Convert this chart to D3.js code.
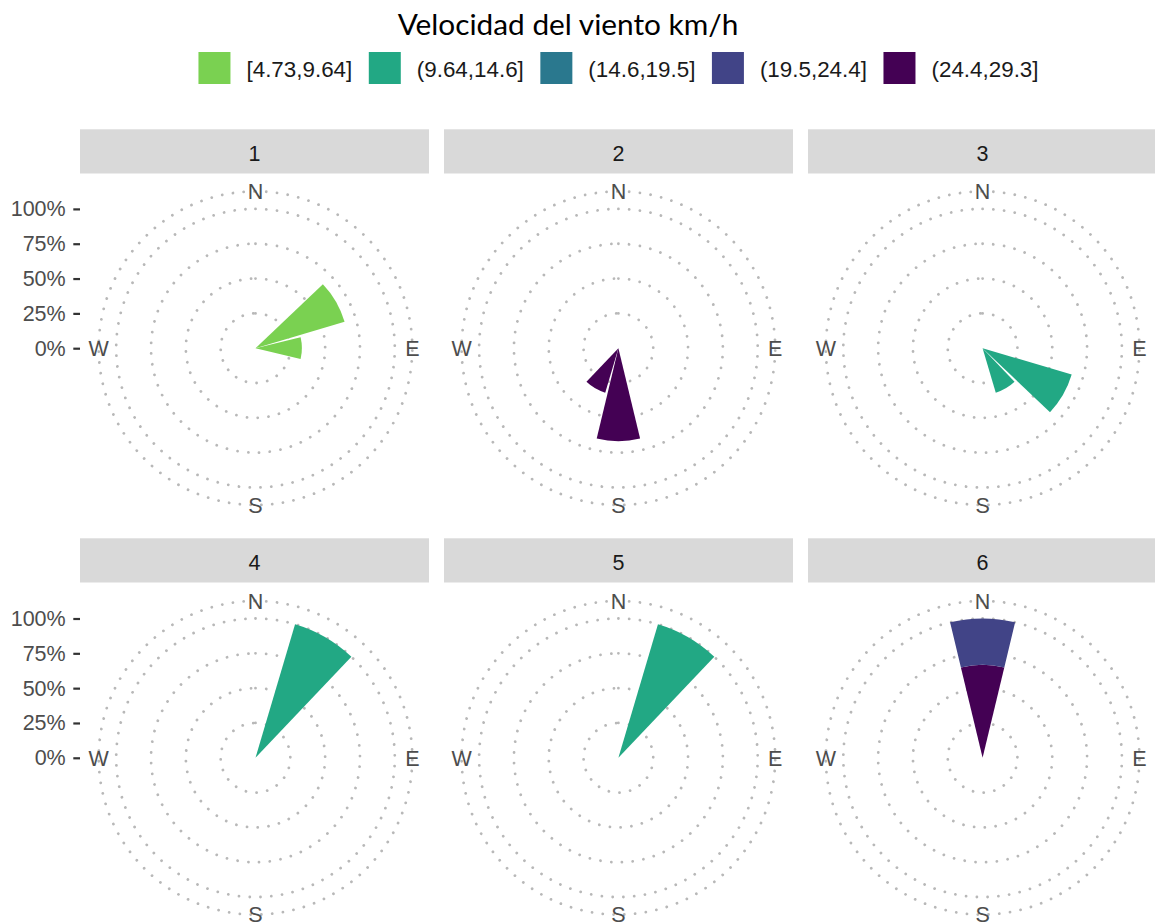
<!DOCTYPE html>
<html><head><meta charset="utf-8">
<script src="https://cdn.jsdelivr.net/npm/d3@7"></script>
<style>body{margin:0;background:#fff} svg{display:block}</style>
</head><body><svg id="c" width="1155" height="924"></svg>
<script>
// ---------- data ----------
const legendTitle = "Velocidad del viento km/h";
const panelLabels = ["1","2","3","4","5","6"];
const speedClasses = ["[4.73,9.64]","(9.64,14.6]","(14.6,19.5]","(19.5,24.4]","(24.4,29.3]"];
const speedColors = ["#7AD151","#22A884","#2A788E","#414487","#440154"];
const directions = [0,30,60,90,120,150,180,210,240,270,300,330];
const rTicks = [0,25,50,75,100];
const compassLabels = ["N","E","S","W"];
const compassDirs = [0,90,180,270];
// one entry per wedge segment (percent of the panel's observations)
const obsPanel = ["1","1","2","2","3","3","4","5","6","6"];
const obsDir   = [60,90,180,210,120,150,30,30,0,0];
const obsSpeed = ["[4.73,9.64]","[4.73,9.64]","(24.4,29.3]","(24.4,29.3]","(9.64,14.6]","(9.64,14.6]","(9.64,14.6]","(9.64,14.6]","(24.4,29.3]","(19.5,24.4]"];
const obsPct   = [66.7,33.3,66.7,33.3,66.7,33.3,100,100,66.7,33.3];

// ---------- layout ----------
const svg = d3.select("#c");
const colCx = [255.5, 618.4, 982.6];
const rowCy = [348.2, 757.8];
const stripLeft = [80, 444, 808];
const stripW = 349;
const stripTop = [129.3, 538.3];
const stripH = 44.2;
const R100 = 139.3;
const Router = 156.8;
const textFont = "'Liberation Sans', Arial, sans-serif";

const color = d3.scaleOrdinal().domain(speedClasses).range(speedColors);
const theta = d3.scaleBand().domain(directions)
  .range([-Math.PI/12, 2*Math.PI - Math.PI/12]).paddingInner(0.1).paddingOuter(0.05);
const rScale = d3.scaleLinear().domain([0,100]).range([0,R100]);

// ---------- title & legend ----------
svg.append("text").attr("x",568).attr("y",34.5).attr("text-anchor","middle")
  .attr("font-family","Lato, 'Open Sans', sans-serif").attr("font-size",29.8)
  .attr("fill","#000").text(legendTitle);

const keySize = 32, keyGap = 16, itemGap = 16.5;
const lg = svg.append("g");
const items = lg.selectAll("g.item").data(speedClasses).join("g").attr("class","item");
items.append("rect").attr("width",keySize).attr("height",keySize).attr("y",52)
  .attr("fill",d=>color(d));
items.append("text").attr("y",76.8).attr("font-family",textFont).attr("font-size",22.4)
  .attr("fill","#1a1a1a").text(d=>d);
let xpos = 0;
const widths = [];
items.each(function(){ widths.push(d3.select(this).select("text").node().getComputedTextLength()); });
const total = d3.sum(widths, w=>keySize+keyGap+w) + itemGap*(widths.length-1);
xpos = 618.5 - total/2;
items.each(function(d,i){
  const g = d3.select(this);
  g.select("rect").attr("x",xpos);
  g.select("text").attr("x",xpos+keySize+keyGap);
  xpos += keySize+keyGap+widths[i]+itemGap;
});

// ---------- panels ----------
panelLabels.forEach((lab,i)=>{
  const col = i%3, row = Math.floor(i/3);
  const cx = colCx[col], cy = rowCy[row];
  // strip
  svg.append("rect").attr("x",stripLeft[col]).attr("y",stripTop[row])
    .attr("width",stripW).attr("height",stripH).attr("fill","#D9D9D9");
  svg.append("text").attr("x",stripLeft[col]+stripW/2).attr("y",stripTop[row]+31.3)
    .attr("text-anchor","middle").attr("font-family",textFont).attr("font-size",21.5)
    .attr("fill","#1a1a1a").text(lab);

  const g = svg.append("g").attr("transform",`translate(${cx},${cy})`);
  // grid circles
  const radii = rTicks.filter(d=>d>0).map(d=>rScale(d)).concat([Router]);
  g.selectAll("path.grid").data(radii).join("path").attr("class","grid")
    .attr("d",r=>`M0,${-r}A${r},${r} 0 1,1 0,${r}A${r},${r} 0 1,1 0,${-r}`)
    .attr("fill","none").attr("stroke","#B8B8B8").attr("stroke-width",2.8)
    .attr("stroke-linecap","round").attr("stroke-dasharray","0.01 10.8");

  // wedges (stacked: later factor levels at the bottom)
  const segs = [];
  obsPanel.forEach((p,k)=>{ if(p===lab) segs.push({dir:obsDir[k], speed:obsSpeed[k], pct:obsPct[k]}); });
  const byDir = d3.group(segs, d=>d.dir);
  const arcs = [];
  byDir.forEach((arr,dir)=>{
    arr.sort((a,b)=>speedClasses.indexOf(b.speed)-speedClasses.indexOf(a.speed));
    let acc = 0;
    arr.forEach(s=>{ arcs.push({dir, speed:s.speed, y0:acc, y1:acc+s.pct}); acc += s.pct; });
  });
  const arc = d3.arc()
    .startAngle(d=>theta(d.dir)).endAngle(d=>theta(d.dir)+theta.bandwidth())
    .innerRadius(d=>rScale(d.y0)).outerRadius(d=>rScale(d.y1));
  g.selectAll("path.w").data(arcs).join("path").attr("class","w")
    .attr("d",arc).attr("fill",d=>color(d.speed));

  // compass labels
  g.selectAll("text.cmp").data(compassLabels).join("text").attr("class","cmp")
    .attr("x",(d,k)=>Router*Math.sin(compassDirs[k]*Math.PI/180))
    .attr("y",(d,k)=>-Router*Math.cos(compassDirs[k]*Math.PI/180))
    .attr("dy","0.36em").attr("text-anchor","middle")
    .attr("font-family",textFont).attr("font-size",21.5).attr("fill","#4D4D4D").text(d=>d);

  // radial axis on left column
  if(col===0){
    const yAx = d3.scaleLinear().domain([0,100]).range([cy, cy-R100]);
    const ax = svg.append("g").attr("transform",`translate(${stripLeft[0]},0)`)
      .call(d3.axisLeft(yAx).tickValues(rTicks).tickFormat(d=>d+"%").tickSize(6.7).tickPadding(7.6));
    ax.select(".domain").remove();
    ax.selectAll(".tick line").attr("stroke","#333333").attr("stroke-width",2.2);
    ax.selectAll(".tick text").attr("font-family",textFont).attr("font-size",21.5).attr("fill","#4D4D4D");
  }
});
</script></body></html>
